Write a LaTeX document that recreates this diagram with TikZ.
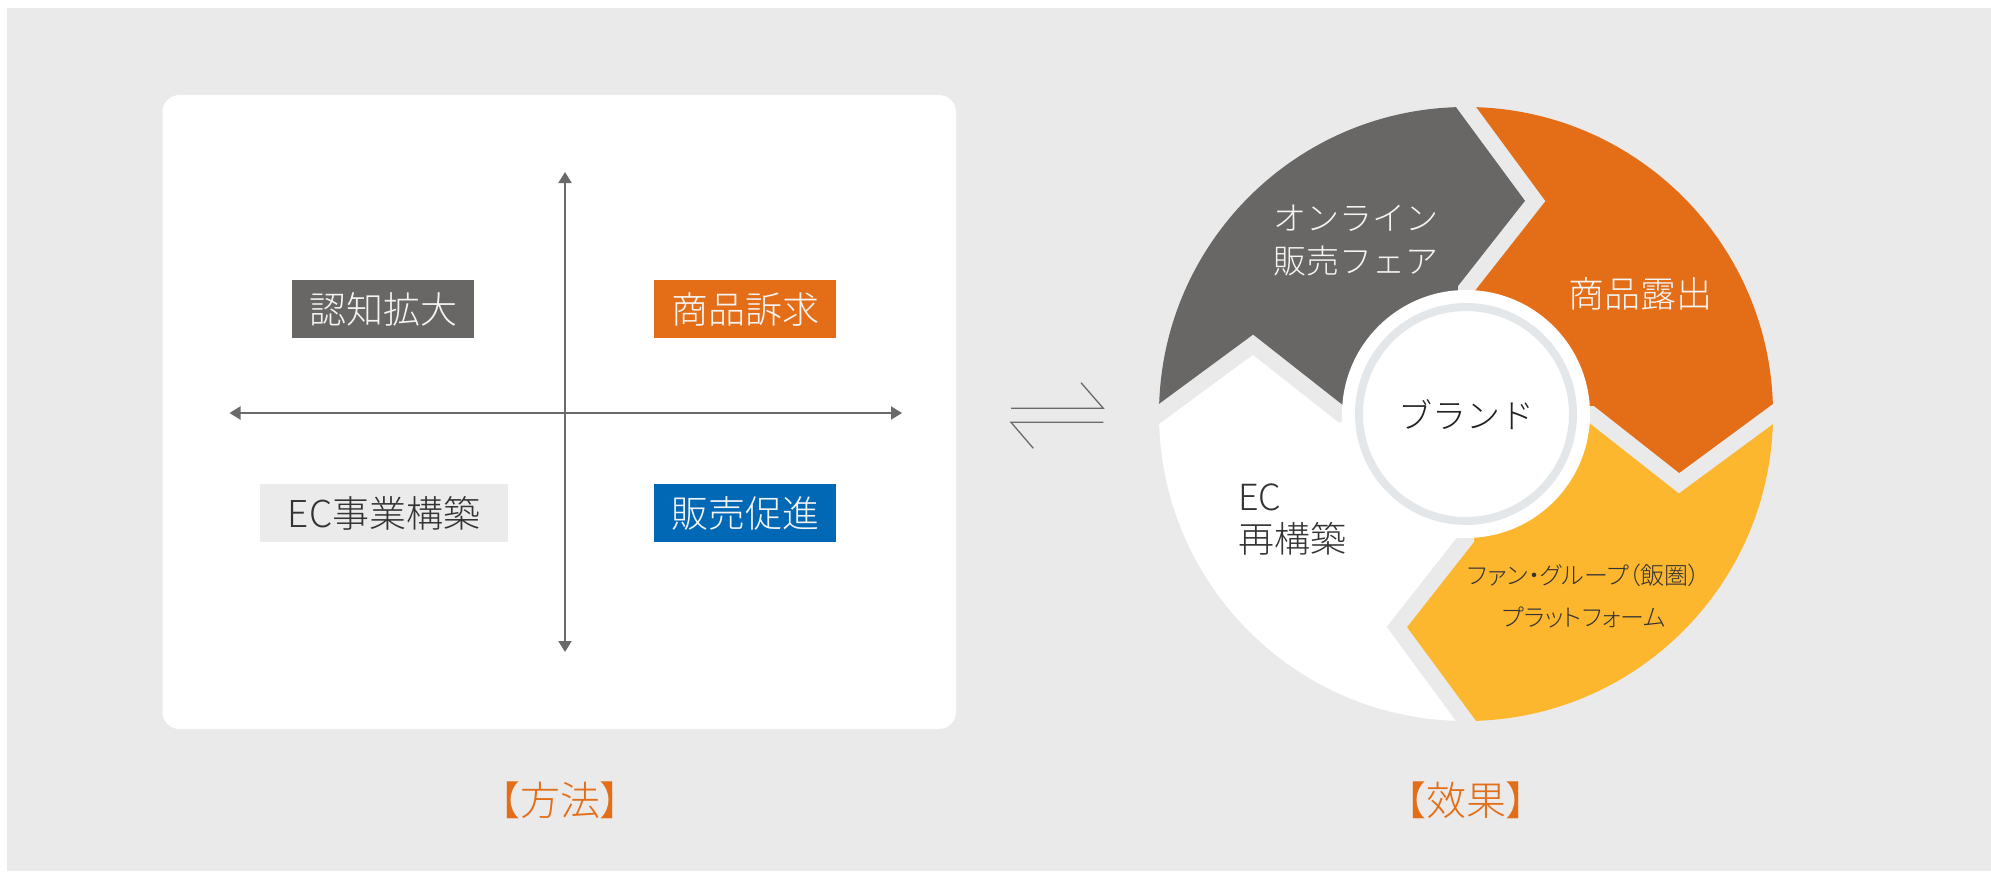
\documentclass[tikz,border=0pt]{standalone}
\usepackage{fontspec}
\setmainfont{Noto Sans CJK JP Light}
\newfontfamily\jpp[RawFeature=+palt]{Noto Sans CJK JP Light}
\usetikzlibrary{arrows.meta,calc}
\definecolor{bgc}{HTML}{EAEAEA}
\definecolor{dgray}{HTML}{686765}
\definecolor{orng}{HTML}{E36E17}
\definecolor{blu}{HTML}{0068B5}
\definecolor{lgray}{HTML}{EBEBEB}
\definecolor{yel}{HTML}{FDB72F}
\definecolor{ringc}{HTML}{E3E7EA}
\definecolor{axisc}{HTML}{6A6A6A}
\definecolor{txtd}{HTML}{333333}
\definecolor{txtw}{HTML}{F4F4F4}
\newcommand{\segpiece}[3]{%
  \fill[#3] (0,0) -- (#1:125pt) -- ({#1-18}:224pt) -- (#1:307pt)
    arc[start angle=#1, end angle=#2, radius=307pt]
    -- ({#2-18}:224pt) -- (#2:125pt) -- cycle;}
\newcommand{\seppiece}[1]{%
  \draw[bgc, line width=16pt, line join=miter]
    ($(#1:307pt)!-0.3!({#1-18}:224pt)$) -- ({#1-18}:224pt) -- (#1:125pt) -- (#1:80pt);}
\begin{document}
\begin{tikzpicture}[x=1pt,y=-1pt,
  lbl/.style={minimum width=182pt, minimum height=58pt, inner sep=0pt, font=\fontsize{37}{40}\selectfont},
  axis/.style={axisc, line width=2pt, {Triangle[length=11pt,width=13pt]}-{Triangle[length=11pt,width=13pt]}},
  eqv/.style={axisc, line width=1.3pt},
  segtxt/.style={inner sep=0pt, align=left, anchor=west}]
\useasboundingbox (0,0) rectangle (1991,871);
\fill[white] (0,0) rectangle (1991,871);
\fill[bgc] (7,8) rectangle (1991,871);
% left panel
\fill[white, rounded corners=17pt] (162.5,95) rectangle (956,729);
\coordinate (vt) at (565,172);
\coordinate (vb) at (565,652);
\coordinate (hl) at (229.5,413);
\coordinate (hr) at (902,413);
\draw[axis] (vt) -- (vb);
\draw[axis] (hl) -- (hr);
\node[lbl, fill=dgray, text=txtw] (n1) at (383,309) {認知拡大};
\node[lbl, fill=orng, text=txtw] (n2) at (745,309) {商品訴求};
\node[lbl, fill=lgray, text=txtd, minimum width=248pt] (n3) at (384,513) {EC事業構築};
\node[lbl, fill=blu, text=txtw] (n4) at (745,513) {販売促進};
% equilibrium arrows
\coordinate (e1) at (1011,408.3);
\coordinate (e2) at (1103.3,408.3);
\coordinate (e3) at (1081,382.7);
\coordinate (e4) at (1103.3,422.3);
\coordinate (e5) at (1011,422.3);
\coordinate (e6) at (1033.3,448.3);
\draw[eqv] (e1) -- (e2) -- (e3);
\draw[eqv] (e4) -- (e5) -- (e6);
% cycle
\begin{scope}[shift={(1466,414)}]
\segpiece{180}{90}{dgray}
\segpiece{90}{0}{orng}
\segpiece{0}{-90}{yel}
\segpiece{-90}{-180}{white}
\seppiece{90}
\seppiece{0}
\seppiece{-90}
\seppiece{180}
\fill[white] (0,0) circle (124pt);
\draw[ringc, line width=8pt] (0,0) circle (107pt);
\end{scope}
\node[inner sep=0pt, text=black!87, font=\fontsize{34}{36}\selectfont] (brand) at (1466,415) {ブランド};
\node[segtxt, text=txtw, font=\fontsize{33}{43}\selectfont] (t1) at (1273,241) {オンライン\\販売フェア};
\node[inner sep=0pt, text=txtw, font=\fontsize{36}{40}\selectfont] (t2) at (1640,294) {商品露出};
\node[segtxt, text=txtd, font=\fontsize{36}{42}\selectfont] (t3) at (1238,520) {EC\\再構築};
\node[inner sep=0pt, align=center, text=txtd, font=\jpp\fontsize{24}{42}\selectfont] (t4) at (1584,596) {ファン・グループ（飯圏）\\プラットフォーム};
% bottom labels
\node[inner sep=0pt, text=orng, font=\jpp\fontsize{40}{44}\selectfont] (m) at (560,800) {【方法】};
\node[inner sep=0pt, text=orng, font=\jpp\fontsize{40}{44}\selectfont] (k) at (1466,800) {【效果】};
\end{tikzpicture}
\end{document}
